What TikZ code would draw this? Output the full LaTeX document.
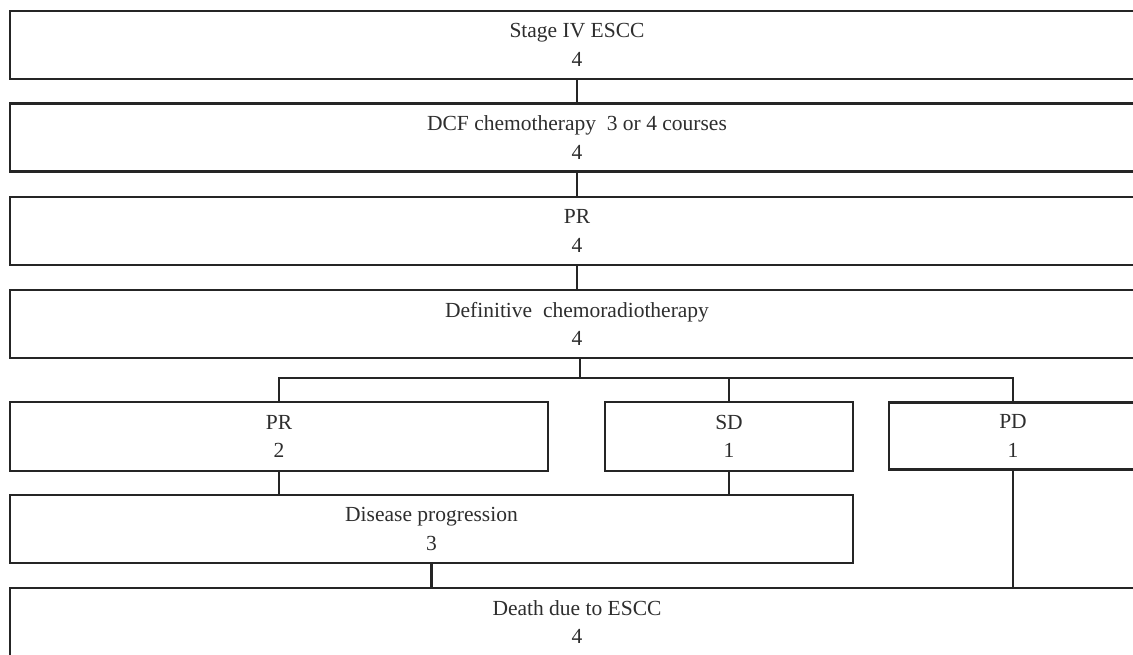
\documentclass[tikz,border=0pt]{standalone}
\usepackage{fontspec}
\setmainfont{Liberation Serif}
\definecolor{ln}{HTML}{252525}
\definecolor{tx}{HTML}{2E2E2E}
\begin{document}
\begin{tikzpicture}[x=1pt,y=-1pt,
  box/.style={draw=ln,line width=2.2pt,minimum height=68pt,inner sep=0pt,
    text=tx,align=center,font=\fontsize{21.5}{28.5}\selectfont},
  conn/.style={draw=ln,line width=2.2pt}]
\useasboundingbox (0,0) rectangle (1133,655);
\clip (0,0) rectangle (1133,655);
\fill[white] (0,0) rectangle (1133,655);
\node[box,minimum width=1134pt] (s1) at (577,45) {Stage IV ESCC\\4};
\node[box,minimum width=1134pt] (s2) at (577,137.5) {DCF chemotherapy~~3 or 4 courses\\4};
\node[box,minimum width=1134pt] (s3) at (577,231) {PR\\4};
\node[box,minimum width=1134pt] (s4) at (577,324) {Definitive~~chemoradiotherapy\\4};
\node[box,minimum width=538pt,minimum height=69pt] (pr) at (279,436.5) {PR\\2};
\node[box,minimum width=248pt,minimum height=69pt] (sd) at (729,436.5) {SD\\1};
\node[box,minimum width=248pt,minimum height=67pt] (pd) at (1013,436) {PD\\1};
\node[box,minimum width=843pt] (dp) at (431.5,529) {Disease progression\\3};
\node[box,minimum width=1134pt] (dt) at (577,622) {Death due to ESCC\\4};
\draw[conn] (s1.south) -- (s2.north);
\draw[conn] (s2.south) -- (s3.north);
\draw[conn] (s3.south) -- (s4.north);
\coordinate (br) at (580,378);
\draw[conn] (s4.south -| br) -- (br);
\draw[conn] (pr.north) |- (br) -| (pd.north);
\draw[conn] (sd.north) -- (sd.north |- br);
\draw[conn] (pr.south) -- (pr.south |- dp.north);
\draw[conn] (sd.south) -- (sd.south |- dp.north);
\draw[conn] (dp.south) -- (dp.south |- dt.north);
\draw[conn] (pd.south) -- (pd.south |- dt.north);
\end{tikzpicture}
\end{document}
